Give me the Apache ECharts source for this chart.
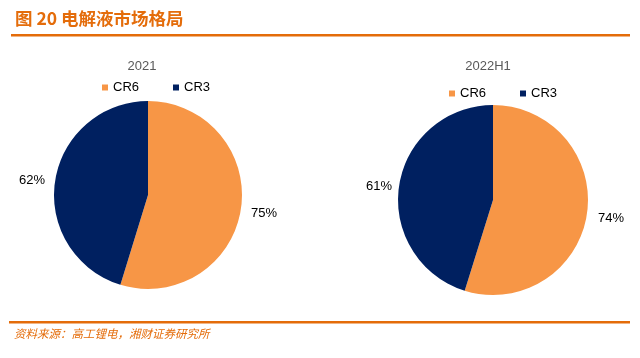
<!DOCTYPE html>
<html><head><meta charset="utf-8">
<script src="https://cdn.jsdelivr.net/npm/echarts@6/dist/echarts.min.js"></script>
<style>html,body{margin:0;padding:0;background:#fff}#c{width:640px;height:358px}</style>
</head><body><div id="c"></div>
<script>
const categories = ['CR6', 'CR3'];
const pieTitles = ['2021', '2022H1'];
const values2021 = [75, 62];
const values2022H1 = [74, 61];
const colors = ['#F79646', '#002060'];

const chart = echarts.init(document.getElementById('c'));
const mkData = vals => categories.map((n, i) => ({ name: n, value: vals[i] }));
const labelPos = [
  [{x: 264, y: 213}, {x: 32, y: 180}],
  [{x: 611, y: 218}, {x: 379, y: 186}]
];
function pie(idx, vals, cx, cy, r) {
  return {
    type: 'pie', legendHoverLink: false, avoidLabelOverlap: false,
    center: [cx, cy], radius: r, startAngle: 90, clockwise: true,
    data: mkData(vals), color: colors,
    label: { show: true, position: 'inside', formatter: '{c}%', fontSize: 13, color: '#000', fontFamily: 'Liberation Sans, Arial' },
    labelLine: { show: false },
    labelLayout: p => {
      const pos = labelPos[idx][p.dataIndex];
      return { x: pos.x, y: pos.y, align: 'center', verticalAlign: 'middle', hideOverlap: false };
    },
    emphasis: { disabled: true }, silent: true
  };
}
const legendText = { fontSize: 13, color: '#000', fontFamily: 'Liberation Sans, Arial' };
const titleText = { fontSize: 13, fontWeight: 'normal', color: '#595959', fontFamily: 'Liberation Sans, Arial' };
chart.setOption({
  animation: false,
  title: [
    { text: pieTitles[0], left: 137, top: 55, textAlign: 'center', textStyle: titleText },
    { text: pieTitles[1], left: 483, top: 55, textAlign: 'center', textStyle: titleText }
  ],
  legend: [
    { data: categories, left: 102, top: 81, padding: 0, itemWidth: 6, itemHeight: 6, itemGap: 34, icon: 'rect', textStyle: legendText },
    { data: categories, left: 449, top: 87, padding: 0, itemWidth: 6, itemHeight: 6, itemGap: 34, icon: 'rect', textStyle: legendText }
  ],
  graphic: [
    { type: 'text', left: 15, top: 10, style: { text: '图 20 电解液市场格局', fill: '#E46C0A', font: 'bold 17.5px "Noto Sans CJK SC"' } },
    { type: 'rect', shape: { x: 11, y: 34, width: 619, height: 2.5 }, style: { fill: '#E46C0A' } },
    { type: 'rect', shape: { x: 9, y: 321, width: 621, height: 2.5 }, style: { fill: '#E46C0A' } },
    { type: 'text', left: 14, top: 328, style: { text: '资料来源：高工锂电，湘财证券研究所', fill: '#E46C0A', font: 'italic 11.5px "Noto Sans CJK SC"' } }
  ],
  series: [
    pie(0, values2021, 148, 195, 94),
    pie(1, values2022H1, 493, 200, 95)
  ]
});
</script></body></html>
